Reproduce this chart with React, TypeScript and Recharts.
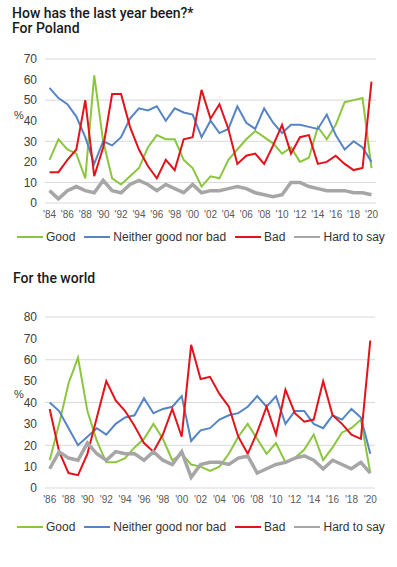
import React from 'react';
import { LineChart, Line, XAxis, YAxis, CartesianGrid, Label } from 'recharts';

// Poland, 1984-2020
const polandYears = [
  "'84", "'85", "'86", "'87", "'88", "'89", "'90", "'91", "'92", "'93", "'94", "'95", "'96",
  "'97", "'98", "'99", "'00", "'01", "'02", "'03", "'04", "'05", "'06", "'07", "'08", "'09",
  "'10", "'11", "'12", "'13", "'14", "'15", "'16", "'17", "'18", "'19", "'20",
];
const polandGood = [21, 31, 26, 24, 12, 62, 30, 12, 9, 13, 17, 27, 33, 31, 31, 21, 17, 8, 13, 12, 21, 26, 31, 35, 32, 29, 24, 27, 20, 22, 37, 31, 38, 49, 50, 51, 17];
const polandNeither = [56, 51, 48, 42, 32, 19, 30, 28, 32, 41, 46, 45, 47, 40, 46, 44, 43, 32, 40, 34, 36, 47, 39, 36, 46, 39, 34, 38, 38, 37, 36, 43, 33, 26, 30, 27, 20];
const polandBad = [15, 15, 21, 26, 50, 13, 27, 53, 53, 37, 26, 18, 12, 21, 16, 31, 32, 55, 41, 48, 36, 19, 23, 24, 19, 28, 38, 24, 32, 33, 19, 20, 23, 19, 16, 17, 59];
const polandHard = [6, 2, 6, 8, 6, 5, 11, 6, 5, 9, 11, 9, 6, 9, 7, 5, 9, 5, 6, 6, 7, 8, 7, 5, 4, 3, 4, 10, 10, 8, 7, 6, 6, 6, 5, 5, 4];

// World, 1986-2020
const worldYears = [
  "'86", "'87", "'88", "'89", "'90", "'91", "'92", "'93", "'94", "'95", "'96", "'97", "'98",
  "'99", "'00", "'01", "'02", "'03", "'04", "'05", "'06", "'07", "'08", "'09", "'10", "'11",
  "'12", "'13", "'14", "'15", "'16", "'17", "'18", "'19", "'20",
];
const worldGood = [13, 30, 49, 61, 36, 22, 12, 12, 14, 19, 23, 30, 23, 13, 16, 11, 10, 8, 10, 16, 24, 30, 23, 16, 21, 12, 14, 18, 25, 13, 19, 26, 28, 32, 7];
const worldNeither = [40, 36, 28, 20, 24, 28, 25, 30, 33, 34, 42, 35, 37, 38, 43, 22, 27, 28, 32, 34, 35, 38, 43, 38, 43, 30, 36, 36, 30, 28, 34, 32, 37, 33, 16];
const worldBad = [37, 17, 7, 6, 16, 33, 50, 41, 36, 29, 21, 17, 25, 37, 24, 67, 51, 52, 44, 38, 24, 16, 26, 38, 25, 46, 35, 31, 32, 50, 34, 30, 25, 23, 69];
const worldHard = [9, 17, 14, 13, 21, 16, 13, 17, 16, 16, 13, 17, 13, 11, 17, 5, 11, 12, 12, 11, 14, 15, 7, 9, 11, 12, 14, 15, 13, 9, 13, 11, 9, 12, 7];

const seriesNames = ['Good', 'Neither good nor bad', 'Bad', 'Hard to say'];
const seriesKeys = ['good', 'neither', 'bad', 'hard'];
const seriesColors = ['#8cc63f', '#5585c5', '#e3121b', '#a6a6a6'];
const seriesWidths = [2, 2, 2, 3.5];

const polandTicks = [0, 10, 20, 30, 40, 50, 60, 70];
const worldTicks = [0, 10, 20, 30, 40, 50, 60, 70, 80];

const makeRows = (years: string[], a: number[], b: number[], c: number[], d: number[]) =>
  years.map((year, i) => ({ year, good: a[i], neither: b[i], bad: c[i], hard: d[i] }));

const polandData = makeRows(polandYears, polandGood, polandNeither, polandBad, polandHard);
const worldData = makeRows(worldYears, worldGood, worldNeither, worldBad, worldHard);

const axisFont = "'Liberation Sans', Arial, sans-serif";
const titleFont = "Roboto, 'Noto Sans', sans-serif";

interface TrendChartProps {
  data: any[];
  ticks: number[];
  top: number;
  height: number;
  rightMargin: number;
  xPad: number;
  pctDy: number;
}

const TrendChart: React.FC<TrendChartProps> = ({ data, ticks, top, height, rightMargin, xPad, pctDy }) => (
  <div style={{ position: 'absolute', left: 0, top }}>
    <LineChart width={397} height={height} data={data} margin={{ top: 9, right: rightMargin, bottom: 0, left: 0 }}>
      <CartesianGrid vertical={false} stroke="#d9d9d9" strokeWidth={1} />
      <XAxis
        dataKey="year"
        interval={1}
        height={20}
        axisLine={false}
        tickLine={false}
        padding={{ left: xPad, right: xPad }}
        tick={{ fontSize: 10, fill: '#595959', fontFamily: axisFont }}
      />
      <YAxis
        width={45}
        domain={[0, ticks[ticks.length - 1]]}
        ticks={ticks}
        axisLine={false}
        tickLine={false}
        tick={{ fontSize: 12, fill: '#404040', fontFamily: axisFont }}
      >
        <Label value="%" position="insideLeft" offset={14} dy={pctDy} style={{ fontSize: 11, fill: '#404040', fontFamily: axisFont }} />
      </YAxis>
      {seriesKeys.map((key, i) => (
        <Line
          key={key}
          type="linear"
          dataKey={key}
          name={seriesNames[i]}
          stroke={seriesColors[i]}
          strokeWidth={seriesWidths[i]}
          dot={false}
          isAnimationActive={false}
        />
      ))}
    </LineChart>
  </div>
);

const ChartLegend: React.FC<{ top: number }> = ({ top }) => (
  <div
    style={{
      position: 'absolute',
      left: 17,
      top,
      display: 'flex',
      alignItems: 'center',
      gap: 9,
      fontFamily: axisFont,
      fontSize: 12,
      color: '#333',
      whiteSpace: 'nowrap',
    }}
  >
    {seriesNames.map((name, i) => (
      <div key={name} style={{ display: 'flex', alignItems: 'center' }}>
        <span style={{ display: 'inline-block', width: 26, height: 2.5, background: seriesColors[i], marginRight: 3 }} />
        <span>{name}</span>
      </div>
    ))}
  </div>
);

export default function App() {
  return (
    <div style={{ position: 'absolute', left: 0, top: 0, width: 397, height: 567, background: '#fff', overflow: 'hidden' }}>
      <div
        style={{
          position: 'absolute',
          left: 12,
          top: 6,
          fontFamily: titleFont,
          fontWeight: 500,
          fontSize: 14,
          lineHeight: '15px',
          color: '#1a1a1a',
        }}
      >
        How has the last year been?*
        <br />
        For Poland
      </div>
      <TrendChart data={polandData} ticks={polandTicks} top={50} height={173} rightMargin={21} xPad={4.5} pctDy={-16} />
      <ChartLegend top={230} />

      <div
        style={{
          position: 'absolute',
          left: 13,
          top: 271,
          fontFamily: titleFont,
          fontWeight: 500,
          fontSize: 14,
          lineHeight: '15px',
          color: '#1a1a1a',
        }}
      >
        For the world
      </div>
      <TrendChart data={worldData} ticks={worldTicks} top={308} height={200} rightMargin={22} xPad={4.7} pctDy={-8} />
      <ChartLegend top={520} />
    </div>
  );
}
